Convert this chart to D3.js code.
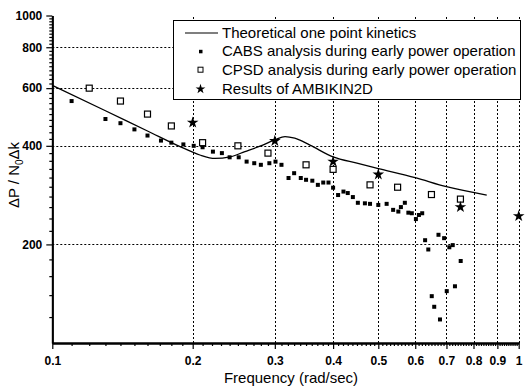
<!DOCTYPE html>
<html>
<head>
<meta charset="utf-8">
<script src="https://cdn.jsdelivr.net/npm/d3@7"></script>
<style>
  body { margin: 0; background: #fff; }
  svg { font-family: Arial, "Liberation Sans", sans-serif; }
</style>
</head>
<body>
<div id="chart"></div>
<script>
// tick labels
const xTicks = [0.1, 0.2, 0.3, 0.4, 0.5, 0.6, 0.7, 0.8, 0.9, 1];
const yTicks = [200, 400, 600, 800, 1000];

// theoretical one point kinetics (line)
const theoryFreq = [0.1, 0.13, 0.16, 0.19, 0.2072, 0.2233, 0.2404, 0.2588, 0.2788, 0.30, 0.3155, 0.331, 0.3568, 0.40, 0.45, 0.50, 0.60, 0.70, 0.854];
const theoryVal  = [612, 512, 444, 395, 375, 366, 370, 384, 399, 417, 427, 422, 402, 370, 354, 341, 320, 300, 283];

// CABS analysis (filled points)
const cabsFreq = [0.110, 0.130, 0.140, 0.150, 0.160, 0.171, 0.180, 0.191, 0.201, 0.210, 0.221, 0.231, 0.240, 0.251, 0.261, 0.271, 0.280, 0.292, 0.301, 0.310,
                  0.321, 0.330, 0.341, 0.350, 0.361, 0.371, 0.381, 0.391, 0.400, 0.410, 0.421, 0.430, 0.441, 0.452, 0.468, 0.480, 0.500, 0.521, 0.538, 0.552,
                  0.559, 0.570, 0.580, 0.590, 0.602, 0.611, 0.621, 0.630, 0.640, 0.651, 0.659, 0.673, 0.678, 0.692, 0.701, 0.710, 0.722, 0.730, 0.751];
const cabsVal  = [548, 483, 469, 449, 430, 415, 409, 404, 400, 396, 384, 380, 369, 369, 358, 354, 350, 354, 358, 350,
                  319, 330, 319, 315, 313, 304, 309, 309, 298, 283, 290, 287, 279, 268, 267, 266, 264, 266, 255, 252,
                  260, 268, 250, 249, 239, 246, 249, 206, 193, 139, 129, 214, 118, 209, 144, 196, 199, 149, 178];

// CPSD analysis (open squares)
const cpsdFreq = [0.12, 0.14, 0.16, 0.18, 0.21, 0.25, 0.29, 0.35, 0.40, 0.48, 0.55, 0.65, 0.75];
const cpsdVal  = [600, 548, 500, 460, 409, 400, 380, 350, 339, 304, 299, 284, 275];

// AMBIKIN2D results (stars)
const ambiFreq = [0.2, 0.3, 0.4, 0.5, 0.75, 1.0];
const ambiVal  = [471, 414, 358, 327, 260, 244];

const legendLabels = [
  "Theoretical one point kinetics",
  "CABS analysis during early power operation",
  "CPSD analysis during early power operation",
  "Results of AMBIKIN2D"
];

(() => {
const width = 526, height = 390;
const svg = d3.select("#chart").append("svg")
    .attr("width", width).attr("height", height);

const x = d3.scaleLog().domain([0.1, 1]).range([52.3, 518.7]);
const y = d3.scaleLog().domain([100, 1000]).range([343, 15.5]);

const xMinor = d3.range(11, 100).filter(i => i % 10 !== 0).map(i => i / 100);
const yMinor = d3.range(120, 1000, 20).filter(v => v % 200 !== 0);

// grid
const grid = svg.append("g")
    .attr("stroke", "#000").attr("stroke-width", 1).attr("stroke-dasharray", "2,2");
grid.selectAll(".vg").data(xTicks.slice(1)).join("line")
    .attr("x1", d => Math.round(x(d)) + 0.5).attr("x2", d => Math.round(x(d)) + 0.5)
    .attr("y1", y(100)).attr("y2", y(1000));
grid.selectAll(".hg").data(yTicks.slice(0, -1)).join("line")
    .attr("y1", d => Math.round(y(d)) + 0.5).attr("y2", d => Math.round(y(d)) + 0.5)
    .attr("x1", x(0.1)).attr("x2", x(1));

// legend box (covers the grid)
const legend = svg.append("g").attr("transform", "translate(173,20)");
legend.append("rect")
    .attr("x", 0.5).attr("y", 0.5).attr("width", 347).attr("height", 79)
    .attr("fill", "#fff").attr("stroke", "#000").attr("stroke-width", 1);
const rowY = [13, 31.3, 49.7, 69];
legend.selectAll("text").data(legendLabels).join("text")
    .attr("x", 49).attr("y", (d, i) => rowY[i] + 5)
    .attr("font-size", 15).text(d => d);
legend.append("line").attr("x1", 12).attr("x2", 45).attr("y1", rowY[0]).attr("y2", rowY[0])
    .attr("stroke", "#000").attr("stroke-width", 1.2);
legend.append("rect").attr("x", 26).attr("y", rowY[1] - 1.5).attr("width", 3.5).attr("height", 3.5).attr("fill", "#000");
legend.append("rect").attr("x", 25).attr("y", rowY[2] - 2.5).attr("width", 5).attr("height", 5)
    .attr("fill", "#fff").attr("stroke", "#000").attr("stroke-width", 1);
legend.append("path").attr("transform", `translate(27.5,${rowY[3]})`)
    .attr("d", d3.symbol(d3.symbolStar, 30)()).attr("fill", "#000");

// theory line
const line = d3.line().x(d => x(d[0])).y(d => y(d[1])).curve(d3.curveMonotoneX);
svg.append("path")
    .datum(theoryFreq.map((f, i) => [f, theoryVal[i]]))
    .attr("d", line).attr("fill", "none").attr("stroke", "#000").attr("stroke-width", 1.3);

// CABS points
svg.append("g").selectAll("rect").data(cabsFreq.map((f, i) => [f, cabsVal[i]])).join("rect")
    .attr("x", d => x(d[0]) - 2).attr("y", d => y(d[1]) - 2)
    .attr("width", 4).attr("height", 4).attr("fill", "#000");

// CPSD points
svg.append("g").selectAll("rect").data(cpsdFreq.map((f, i) => [f, cpsdVal[i]])).join("rect")
    .attr("x", d => x(d[0]) - 3).attr("y", d => y(d[1]) - 3)
    .attr("width", 6).attr("height", 6)
    .attr("fill", "#fff").attr("stroke", "#000").attr("stroke-width", 1.2);

// AMBIKIN2D stars
svg.append("g").selectAll("path").data(ambiFreq.map((f, i) => [f, ambiVal[i]])).join("path")
    .attr("transform", d => `translate(${x(d[0])},${y(d[1])})`)
    .attr("d", d3.symbol(d3.symbolStar, 42)()).attr("fill", "#000");

// axes
const xAxis = svg.append("g").attr("transform", `translate(0,${y(100)})`)
    .call(d3.axisBottom(x).tickValues(xTicks).tickFormat(d => String(d)).tickSize(6).tickSizeOuter(0));
svg.append("g").attr("transform", `translate(0,${y(100)})`)
    .call(d3.axisBottom(x).tickValues(xMinor).tickFormat("").tickSize(3).tickSizeOuter(0));
const yAxis = svg.append("g").attr("transform", `translate(${x(0.1)},0)`)
    .call(d3.axisLeft(y).tickValues(yTicks).tickFormat(d => String(d)).tickSize(6).tickSizeOuter(0));
svg.append("g").attr("transform", `translate(${x(0.1)},0)`)
    .call(d3.axisLeft(y).tickValues(yMinor).tickFormat("").tickSize(3).tickSizeOuter(0));

svg.selectAll(".domain").attr("stroke", "#000").attr("stroke-width", 1.8);
svg.selectAll(".tick line").attr("stroke", "#000").attr("stroke-width", 1.2);
xAxis.selectAll("text").attr("font-size", 12).attr("font-weight", "bold")
    .attr("font-family", "Arial, 'Liberation Sans', sans-serif").attr("fill", "#000").attr("dy", "1.05em");
yAxis.selectAll("text").attr("font-size", 12).attr("font-weight", "bold")
    .attr("font-family", "Arial, 'Liberation Sans', sans-serif").attr("fill", "#000").attr("x", -10);

// axis titles
svg.append("text").attr("x", 291).attr("y", 383).attr("text-anchor", "middle")
    .attr("font-size", 15).text("Frequency (rad/sec)");
const yl = svg.append("text").attr("transform", "translate(19,175) rotate(-90)")
    .attr("text-anchor", "middle").attr("font-size", 15);
yl.append("tspan").text("ΔP / N");
yl.append("tspan").attr("font-size", 10).attr("dy", 4).text("0");
yl.append("tspan").attr("dy", -4).text("Δk");
})();
</script>
</body>
</html>
